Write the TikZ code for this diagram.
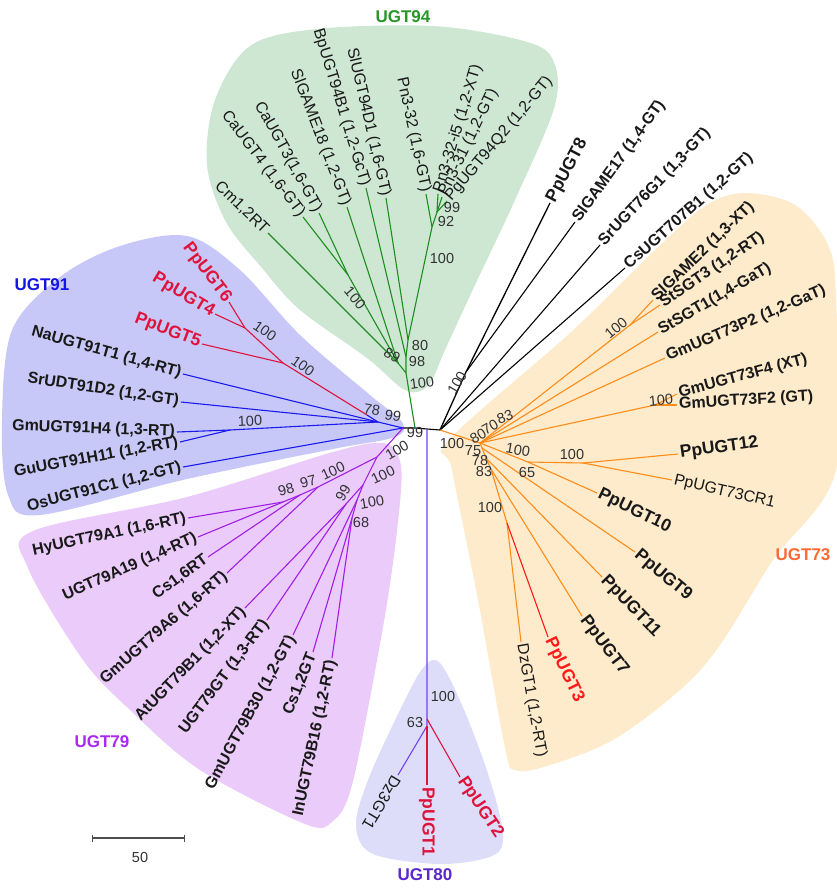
\documentclass[tikz,border=0pt]{standalone}
\usepackage{fontspec}
\setmainfont{Liberation Sans}
\usetikzlibrary{arrows.meta}
\definecolor{inkdark}{RGB}{25,25,25}
\definecolor{bsgray}{RGB}{50,50,50}
\definecolor{fillA}{RGB}{206,231,211}
\definecolor{fillB}{RGB}{200,200,248}
\definecolor{fillC}{RGB}{234,203,250}
\definecolor{fillD}{RGB}{221,221,250}
\definecolor{fillE}{RGB}{253,235,203}
\definecolor{lineA}{RGB}{30,140,30}
\definecolor{lineB}{RGB}{25,25,240}
\definecolor{lineC}{RGB}{160,30,230}
\definecolor{lineD}{RGB}{115,65,240}
\definecolor{lineE}{RGB}{255,140,25}
\definecolor{ppred}{RGB}{222,20,60}
\definecolor{ppthree}{RGB}{255,25,25}
\definecolor{txtA}{RGB}{40,150,40}
\definecolor{txtB}{RGB}{20,20,230}
\definecolor{txtC}{RGB}{170,40,240}
\definecolor{txtD}{RGB}{90,40,200}
\definecolor{txtE}{RGB}{255,105,50}
\begin{document}
\begin{tikzpicture}[x=1pt, y=-1pt,
  br/.style={line width=1.1pt},
  lf/.style={font=\fontsize{16}{19}\selectfont\bfseries, text=inkdark, inner sep=2pt},
  lfr/.style={font=\fontsize{16}{19}\selectfont, text=inkdark, inner sep=2pt},
  pp/.style={font=\fontsize{17.5}{20}\selectfont\bfseries, text=inkdark, inner sep=2pt},
  bs/.style={font=\fontsize{14.5}{16}\selectfont, text=bsgray, inner sep=0pt},
  clade/.style={font=\fontsize{17}{20}\selectfont\bfseries},
  hull/.style={smooth cycle, tension=0.55}
]
\useasboundingbox (0,0) rectangle (836,893);

% clade backgrounds
\fill[fillA] plot[hull] coordinates {(300,310) (367,358) (405,390) (428,386) (445,350) (475,285) (515,200) (555,105) (552,58) (520,40) (433,26) (317,29) (250,46) (215,100) (207,165) (226,222) (262,268)};
\fill[fillB] plot[hull] coordinates {(187,236) (240,270) (300,335) (370,395) (402,422) (395,437) (333,449) (187,479) (40,515) (8,495) (2,420) (12,330) (60,277) (120,246)};
\fill[fillC] plot[hull] coordinates {(33,531) (187,497) (333,452) (383,443) (399,458) (401,490) (392,570) (378,655) (352,785) (333,821) (305,824) (200,770) (130,710) (83,660) (28,568)};
\fill[fillD] plot[hull] coordinates {(440,663) (465,712) (490,780) (503,835) (492,856) (440,864) (373,854) (356,826) (368,780) (400,710) (423,668)};
\fill[fillE] plot[hull] coordinates {(449,440) (570,333) (653,252) (705,206) (745,193) (795,205) (828,245) (836,300) (836,470) (773,560) (720,645) (680,690) (613,740) (547,766) (515,770) (505,748) (478,600) (452,470)};

% root
\coordinate (c2) at (403,428); \coordinate (c1) at (415,428);
\coordinate (c0) at (427,429); \coordinate (c3) at (440,430);
\draw[br] (c2) -- (c1) -- (c0) -- (c3);

% UGT94
\coordinate (g100) at (406,373); \coordinate (g89) at (398,363); \coordinate (gca) at (348,275);
\coordinate (g98) at (406,357); \coordinate (g80) at (408,340); \coordinate (g92) at (432,227);
\coordinate (g99) at (437,212);
\coordinate (tcm) at (268,233); \coordinate (tca4) at (303,217); \coordinate (tca3) at (319,213);
\coordinate (tsl18) at (347,207); \coordinate (tbp) at (366,188); \coordinate (tsld) at (386,198);
\coordinate (tpn32) at (426,194); \coordinate (tpni5) at (438,194); \coordinate (tpn31) at (442,197);
\coordinate (tpg) at (447,201);
\draw[br, lineA] (c1) -- (g100) -- (g89) -- (tcm); \draw[br, lineA] (g89) -- (gca) -- (tca4);
\draw[br, lineA] (gca) -- (tca3); \draw[br, lineA] (g89) -- (tsl18);
\draw[br, lineA] (g100) -- (g98) -- (tbp); \draw[br, lineA] (g98) -- (g80) -- (tsld);
\draw[br, lineA] (g80) -- (g92) -- (tpn32); \draw[br, lineA] (g92) -- (g99) -- (tpni5);
\draw[br, lineA] (g99) -- (tpn31); \draw[br, lineA] (g99) -- (tpg);

% UGT91
\coordinate (b99) at (378,422); \coordinate (b78) at (367,415); \coordinate (r100a) at (283,363);
\coordinate (r100b) at (245,328); \coordinate (bgm) at (230,430);
\coordinate (tpp6) at (229,302); \coordinate (tpp4) at (215,314); \coordinate (tpp5) at (202,344);
\coordinate (tna) at (183,374); \coordinate (tsr) at (181,402); \coordinate (tgm) at (177,432);
\coordinate (tgu) at (180,442); \coordinate (tos) at (183,467);
\draw[br, lineB] (c2) -- (b99) -- (tna); \draw[br, lineB] (b99) -- (tsr);
\draw[br, lineB] (b99) -- (bgm) -- (tgm); \draw[br, lineB] (bgm) -- (tgu);
\draw[br, lineB] (c2) -- (tos); \draw[br, lineB] (b99) -- (b78);
\draw[br, ppred] (b78) -- (r100a) -- (tpp5); \draw[br, ppred] (r100a) -- (r100b) -- (tpp4);
\draw[br, ppred] (r100b) -- (tpp6);

% UGT79
\coordinate (u100) at (377,457); \coordinate (u100h) at (318,487); \coordinate (u97) at (300,495);
\coordinate (u98) at (283,502); \coordinate (u100b) at (363,485); \coordinate (u99) at (346,504);
\coordinate (u100d) at (357,500); \coordinate (u68) at (352,518);
\coordinate (thy) at (188,518); \coordinate (ta19) at (198,537); \coordinate (tcs6) at (208,557);
\coordinate (tgm6) at (227,573); \coordinate (tat) at (245,608); \coordinate (t79gt) at (267,620);
\coordinate (tgm30) at (293,635); \coordinate (tcs2) at (313,652); \coordinate (tin) at (332,658);
\draw[br, lineC] (c2) -- (u100) -- (u100h) -- (tgm6); \draw[br, lineC] (u100h) -- (u97) -- (tcs6);
\draw[br, lineC] (u97) -- (u98) -- (thy); \draw[br, lineC] (u98) -- (ta19);
\draw[br, lineC] (u100) -- (u100b) -- (u99) -- (tat); \draw[br, lineC] (u99) -- (t79gt);
\draw[br, lineC] (u100b) -- (u100d) -- (tgm30); \draw[br, lineC] (u100d) -- (u68) -- (tcs2);
\draw[br, lineC] (u68) -- (tin);

% UGT80
\coordinate (v100) at (427,719); \coordinate (v63) at (427,726);
\coordinate (tdz3) at (398,775); \coordinate (tpp1) at (427,785); \coordinate (tpp2) at (460,777);
\draw[br, lineD] (c0) -- (v100) -- (v63) -- (tdz3);
\draw[br, ppred] (v100) -- (tpp2); \draw[br, ppred] (v63) -- (tpp1);

% ungrouped
\coordinate (k100) at (466,372);
\coordinate (tpp8) at (550,203); \coordinate (tsg17) at (575,222);
\coordinate (tsr76) at (600,245); \coordinate (tcs707) at (625,268);
\draw[br, line width=1.3pt] (c3) -- (k100) -- (tpp8); \draw[br] (k100) -- (tsg17);
\draw[br] (c3) -- (tsr76); \draw[br] (c3) -- (tcs707);

% UGT73
\coordinate (o1) at (480,443); \coordinate (osl) at (630,325); \coordinate (of) at (655,405);
\coordinate (o65) at (528,462); \coordinate (op) at (583,463); \coordinate (ol1) at (482,448);
\coordinate (ol2) at (486,458); \coordinate (ol3) at (491,469); \coordinate (odz) at (507,523);
\coordinate (tslg2) at (653,300); \coordinate (tsts3) at (660,305); \coordinate (tsts1) at (658,332);
\coordinate (tp2) at (665,358); \coordinate (tf4) at (677,394); \coordinate (tf2) at (677,405);
\coordinate (tpp12) at (678,454); \coordinate (tcr1) at (672,480); \coordinate (tpp10) at (597,493);
\coordinate (tpp9) at (635,552); \coordinate (tpp11) at (602,577); \coordinate (tpp7) at (582,616);
\coordinate (tpp3) at (548,637); \coordinate (tdz1) at (521,642);
\draw[br, lineE] (c3) -- (o1) -- (osl) -- (tslg2); \draw[br, lineE] (osl) -- (tsts3);
\draw[br, lineE] (o1) -- (tsts1); \draw[br, lineE] (o1) -- (tp2);
\draw[br, lineE] (o1) -- (of) -- (tf4); \draw[br, lineE] (of) -- (tf2);
\draw[br, lineE] (o1) -- (o65) -- (op) -- (tpp12); \draw[br, lineE] (op) -- (tcr1);
\draw[br, lineE] (o65) -- (tpp10); \draw[br, lineE] (o1) -- (ol1) -- (tpp9);
\draw[br, lineE] (ol1) -- (ol2) -- (tpp11); \draw[br, lineE] (ol2) -- (ol3) -- (tpp7);
\draw[br, lineE] (ol3) -- (odz) -- (tdz1); \draw[br, ppthree] (odz) -- (tpp3);

% leaf labels
\node[lfr, anchor=east, rotate=-44] (lcm) at (tcm) {Cm1,2RT};
\node[lfr, anchor=east, rotate=-53] (lca4) at (tca4) {CaUGT4 (1,6-GT)};
\node[lfr, anchor=east, rotate=-61] (lca3) at (tca3) {CaUGT3(1,6-GT)};
\node[lfr, anchor=east, rotate=-69] (lsl18) at (tsl18) {SlGAME18 (1,2-GT)};
\node[lfr, anchor=east, rotate=-73] (lbp) at (tbp) {BpUGT94B1 (1,2-GcT)};
\node[lfr, anchor=east, rotate=-77] (lsld) at (tsld) {SlUGT94D1 (1,6-GT)};
\node[lfr, anchor=east, rotate=-78] (lpn32) at (tpn32) {Pn3-32 (1,6-GT)};
\node[lfr, anchor=west, rotate=73] (lpni5) at (tpni5) {Pn3-32-i5 (1,2-XT)};
\node[lfr, anchor=west, rotate=64] (lpn31) at (tpn31) {Pn3-31 (1,2-GT)};
\node[lfr, anchor=west, rotate=50] (lpg) at (tpg) {PgUGT94Q2 (1,2-GT)};

\node[pp, anchor=east, rotate=-53, text=ppred] (lpp6) at (tpp6) {PpUGT6};
\node[pp, anchor=east, rotate=-31, text=ppred] (lpp4) at (tpp4) {PpUGT4};
\node[pp, anchor=east, rotate=-21, text=ppred] (lpp5) at (tpp5) {PpUGT5};
\node[lf, anchor=east, rotate=-15.6] (lna) at (tna) {NaUGT91T1 (1,4-RT)};
\node[lf, anchor=east, rotate=-8.7] (lsr) at (tsr) {SrUDT91D2 (1,2-GT)};
\node[lf, anchor=east, rotate=-2] (lgm) at (tgm) {GmUGT91H4 (1,3-RT)};
\node[lf, anchor=east, rotate=10.5] (lgu) at (tgu) {GuUGT91H11 (1,2-RT)};
\node[lf, anchor=east, rotate=14.5] (los) at (tos) {OsUGT91C1 (1,2-GT)};

\node[lf, anchor=east, rotate=12] (lhy) at (thy) {HyUGT79A1 (1,6-RT)};
\node[lf, anchor=east, rotate=24] (la19) at (ta19) {UGT79A19 (1,4-RT)};
\node[lf, anchor=east, rotate=36] (lcs6) at (tcs6) {Cs1,6RT};
\node[lf, anchor=east, rotate=41] (lgm6) at (tgm6) {GmUGT79A6 (1,6-RT)};
\node[lf, anchor=east, rotate=46] (lat) at (tat) {AtUGT79B1 (1,2-XT)};
\node[lf, anchor=east, rotate=53] (l79gt) at (t79gt) {UGT79GT (1,3-RT)};
\node[lf, anchor=east, rotate=61.5] (lgm30) at (tgm30) {GmUGT79B30 (1,2-GT)};
\node[lf, anchor=east, rotate=68] (lcs2) at (tcs2) {Cs1,2GT};
\node[lf, anchor=east, rotate=78] (lin) at (tin) {InUGT79B16 (1,2-RT)};

\node[lfr, anchor=west, rotate=-121] (ldz3) at (tdz3) {Dz3GT1};
\node[pp, anchor=west, rotate=-90, text=ppred] (lpp1) at (tpp1) {PpUGT1};
\node[pp, anchor=west, rotate=-56.5, text=ppred] (lpp2) at (tpp2) {PpUGT2};

\node[pp, anchor=west, rotate=62] (lpp8) at (tpp8) {PpUGT8};
\node[lf, anchor=west, rotate=54] (lsg17) at (tsg17) {SlGAME17 (1,4-GT)};
\node[lf, anchor=west, rotate=46.6] (lsr76) at (tsr76) {SrUGT76G1 (1,3-GT)};
\node[lf, anchor=west, rotate=41.6] (lcs707) at (tcs707) {CsUGT707B1 (1,2-GT)};

\node[lf, anchor=west, rotate=44] (lslg2) at (tslg2) {SlGAME2 (1,3-XT)};
\node[lf, anchor=west, rotate=34] (lsts3) at (tsts3) {StSGT3 (1,2-RT)};
\node[lf, anchor=west, rotate=30] (lsts1) at (tsts1) {StSGT1(1,4-GaT)};
\node[lf, anchor=west, rotate=23] (lp2) at (tp2) {GmUGT73P2 (1,2-GaT)};
\node[lf, anchor=west, rotate=15] (lf4) at (tf4) {GmUGT73F4 (XT)};
\node[lf, anchor=west, rotate=3.5] (lf2) at (tf2) {GmUGT73F2 (GT)};
\node[pp, anchor=west, rotate=8] (lpp12) at (tpp12) {PpUGT12};
\node[lfr, anchor=west, rotate=-13] (lcr1) at (tcr1) {PpUGT73CR1};
\node[pp, anchor=west, rotate=-26] (lpp10) at (tpp10) {PpUGT10};
\node[pp, anchor=west, rotate=-40] (lpp9) at (tpp9) {PpUGT9};
\node[pp, anchor=west, rotate=-46] (lpp11) at (tpp11) {PpUGT11};
\node[pp, anchor=west, rotate=-53] (lpp7) at (tpp7) {PpUGT7};
\node[pp, anchor=west, rotate=-64, text=ppthree] (lpp3) at (tpp3) {PpUGT3};
\node[lfr, anchor=west, rotate=-80] (ldz1) at (tdz1) {DzGT1 (1,2-RT)};

% bootstrap values
\node[bs] (s1) at (452,208) {99}; \node[bs] (s2) at (446,222) {92};
\node[bs] (s3) at (442,259) {100}; \node[bs, rotate=-50] (s4) at (355,298) {100};
\node[bs, rotate=-30] (s5) at (392,355) {89}; \node[bs] (s6) at (420,346) {80};
\node[bs] (s7) at (417,362) {98}; \node[bs, rotate=8] (s8) at (422,383) {100};
\node[bs] (s9) at (415,433) {99};
\node[bs, rotate=-35] (s10) at (265,331) {100}; \node[bs, rotate=-35] (s11) at (303,366) {100};
\node[bs, rotate=-10] (s12) at (372,410) {78}; \node[bs, rotate=-10] (s13) at (393,416) {99};
\node[bs, rotate=3] (s14) at (250,421) {100};
\node[bs, rotate=30] (s15) at (397,450) {100}; \node[bs, rotate=25] (s16) at (383,475) {100};
\node[bs, rotate=10] (s17) at (372,502) {100}; \node[bs] (s18) at (361,523) {68};
\node[bs, rotate=60] (s19) at (343,493) {99}; \node[bs, rotate=25] (s20) at (333,471) {100};
\node[bs, rotate=15] (s21) at (308,482) {97}; \node[bs, rotate=15] (s22) at (286,490) {98};
\node[bs, rotate=60] (s23) at (457,383) {100};
\node[bs] (s24) at (452,444) {100}; \node[bs, rotate=30] (s25) at (478,436) {80};
\node[bs, rotate=30] (s26) at (490,427) {70}; \node[bs, rotate=20] (s27) at (505,417) {83};
\node[bs] (s28) at (473,451) {75}; \node[bs] (s29) at (480,461) {78};
\node[bs] (s30) at (484,472) {83}; \node[bs, rotate=-10] (s31) at (518,450) {100};
\node[bs] (s32) at (572,455) {100}; \node[bs] (s33) at (527,473) {65};
\node[bs] (s34) at (490,508) {100}; \node[bs, rotate=40] (s35) at (616,328) {100};
\node[bs, rotate=5] (s36) at (661,400) {100};
\node[bs] (s37) at (443,697) {100}; \node[bs] (s38) at (415,722) {63};

% clade names
\node[clade, text=txtA] (kA) at (403,17) {UGT94};
\node[clade, text=txtB] (kB) at (42,285) {UGT91};
\node[clade, text=txtC] (kC) at (102,742) {UGT79};
\node[clade, text=txtD] (kD) at (425,875) {UGT80};
\node[clade, text=txtE] (kE) at (803,555) {UGT73};

% scale bar
\coordinate (sb1) at (92,838); \coordinate (sb2) at (185,838);
\draw[line width=1.2pt, black!70, {Bar[width=7pt]}-{Bar[width=7pt]}] (sb1) -- (sb2);
\node[bs] (sbl) at (140,857) {50};
\end{tikzpicture}
\end{document}
